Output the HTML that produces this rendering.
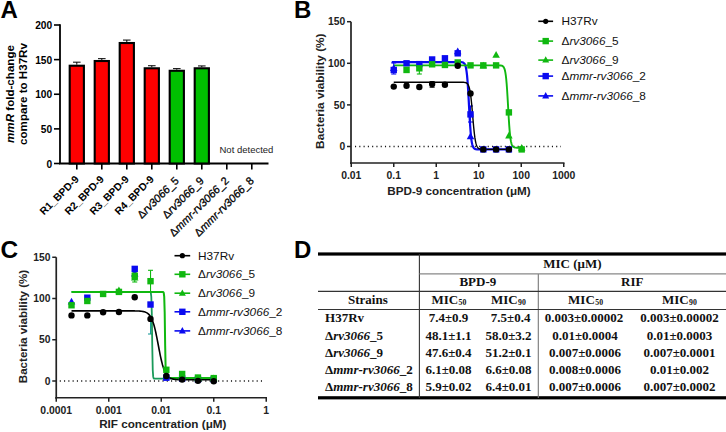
<!DOCTYPE html><html><head><meta charset="utf-8"><style>html,body{margin:0;padding:0;background:#fff;width:726px;height:432px;overflow:hidden}svg{display:block}</style></head><body>
<svg width="726" height="432" viewBox="0 0 726 432" font-family='"Liberation Sans", sans-serif'>
<text x="0.5" y="17.7" font-size="24" font-weight="bold">A</text>
<text x="294" y="18.2" font-size="24" font-weight="bold">B</text>
<text x="0.5" y="257.9" font-size="24.4" font-weight="bold">C</text>
<text x="294" y="257.9" font-size="24" font-weight="bold">D</text>
<line x1="60" y1="24.3" x2="60" y2="163.5" stroke="#000" stroke-width="1.8"/>
<line x1="59" y1="163.5" x2="268.5" y2="163.5" stroke="#000" stroke-width="1.8"/>
<line x1="54" y1="163.5" x2="60" y2="163.5" stroke="#000" stroke-width="1.6"/>
<text x="52.2" y="167.7" font-size="10.2" font-weight="bold" text-anchor="end">0</text>
<line x1="54" y1="128.875" x2="60" y2="128.875" stroke="#000" stroke-width="1.6"/>
<text x="52.2" y="133.075" font-size="10.2" font-weight="bold" text-anchor="end">50</text>
<line x1="54" y1="94.25" x2="60" y2="94.25" stroke="#000" stroke-width="1.6"/>
<text x="52.2" y="98.45" font-size="10.2" font-weight="bold" text-anchor="end">100</text>
<line x1="54" y1="59.625" x2="60" y2="59.625" stroke="#000" stroke-width="1.6"/>
<text x="52.2" y="63.825" font-size="10.2" font-weight="bold" text-anchor="end">150</text>
<line x1="54" y1="25.0" x2="60" y2="25.0" stroke="#000" stroke-width="1.6"/>
<text x="52.2" y="29.2" font-size="10.2" font-weight="bold" text-anchor="end">200</text>
<line x1="76.8" y1="163.5" x2="76.8" y2="169.5" stroke="#000" stroke-width="1.6"/>
<line x1="101.8" y1="163.5" x2="101.8" y2="169.5" stroke="#000" stroke-width="1.6"/>
<line x1="126.8" y1="163.5" x2="126.8" y2="169.5" stroke="#000" stroke-width="1.6"/>
<line x1="151.8" y1="163.5" x2="151.8" y2="169.5" stroke="#000" stroke-width="1.6"/>
<line x1="176.8" y1="163.5" x2="176.8" y2="169.5" stroke="#000" stroke-width="1.6"/>
<line x1="201.8" y1="163.5" x2="201.8" y2="169.5" stroke="#000" stroke-width="1.6"/>
<line x1="226.8" y1="163.5" x2="226.8" y2="169.5" stroke="#000" stroke-width="1.6"/>
<line x1="251.8" y1="163.5" x2="251.8" y2="169.5" stroke="#000" stroke-width="1.6"/>
<line x1="76.8" y1="62.18025" x2="76.8" y2="64.68025" stroke="#000" stroke-width="1"/>
<line x1="73.0" y1="62.18025" x2="80.6" y2="62.18025" stroke="#000" stroke-width="1"/>
<rect x="69.7" y="65.73025" width="14.2" height="97.76975" fill="#ff0000" stroke="#000" stroke-width="2.1"/>
<line x1="101.8" y1="58.67125" x2="101.8" y2="59.97125" stroke="#000" stroke-width="1"/>
<line x1="98.0" y1="58.67125" x2="105.6" y2="58.67125" stroke="#000" stroke-width="1"/>
<rect x="94.7" y="61.021249999999995" width="14.2" height="102.47875" fill="#ff0000" stroke="#000" stroke-width="2.1"/>
<line x1="126.8" y1="40.066250000000004" x2="126.8" y2="41.96625" stroke="#000" stroke-width="1"/>
<line x1="123.0" y1="40.066250000000004" x2="130.6" y2="40.066250000000004" stroke="#000" stroke-width="1"/>
<rect x="119.7" y="43.01625" width="14.2" height="120.48375" fill="#ff0000" stroke="#000" stroke-width="2.1"/>
<line x1="151.8" y1="65.74249999999999" x2="151.8" y2="67.24249999999999" stroke="#000" stroke-width="1"/>
<line x1="148.0" y1="65.74249999999999" x2="155.60000000000002" y2="65.74249999999999" stroke="#000" stroke-width="1"/>
<rect x="144.70000000000002" y="68.29249999999999" width="14.2" height="95.20750000000001" fill="#ff0000" stroke="#000" stroke-width="2.1"/>
<line x1="176.8" y1="68.63550000000001" x2="176.8" y2="69.7355" stroke="#000" stroke-width="1"/>
<line x1="173.0" y1="68.63550000000001" x2="180.60000000000002" y2="68.63550000000001" stroke="#000" stroke-width="1"/>
<rect x="169.70000000000002" y="70.7855" width="14.2" height="92.7145" fill="#00c000" stroke="#000" stroke-width="2.1"/>
<line x1="201.8" y1="65.9425" x2="201.8" y2="67.24249999999999" stroke="#000" stroke-width="1"/>
<line x1="198.0" y1="65.9425" x2="205.60000000000002" y2="65.9425" stroke="#000" stroke-width="1"/>
<rect x="194.70000000000002" y="68.29249999999999" width="14.2" height="95.20750000000001" fill="#00c000" stroke="#000" stroke-width="2.1"/>
<text transform="translate(79.5,180.0) rotate(-45)" font-size="10.4" font-weight="bold" text-anchor="end">R1_BPD-9</text>
<text transform="translate(104.5,180.0) rotate(-45)" font-size="10.4" font-weight="bold" text-anchor="end">R2_BPD-9</text>
<text transform="translate(129.5,180.0) rotate(-45)" font-size="10.4" font-weight="bold" text-anchor="end">R3_BPD-9</text>
<text transform="translate(154.5,180.0) rotate(-45)" font-size="10.4" font-weight="bold" text-anchor="end">R4_BPD-9</text>
<text transform="translate(179.5,181.5) rotate(-45)" font-size="10.4" font-weight="bold" text-anchor="end"><tspan font-weight="normal" font-size="11" stroke="#000" stroke-width="0.3">Δ<tspan font-style="italic">rv3066</tspan>_5</tspan></text>
<text transform="translate(204.5,181.5) rotate(-45)" font-size="10.4" font-weight="bold" text-anchor="end"><tspan font-weight="normal" font-size="11" stroke="#000" stroke-width="0.3">Δ<tspan font-style="italic">rv3066</tspan>_9</tspan></text>
<text transform="translate(229.5,181.5) rotate(-45)" font-size="10.4" font-weight="bold" text-anchor="end"><tspan font-weight="normal" font-size="11" stroke="#000" stroke-width="0.3">Δ<tspan font-style="italic">mmr-rv3066</tspan>_2</tspan></text>
<text transform="translate(254.5,181.5) rotate(-45)" font-size="10.4" font-weight="bold" text-anchor="end"><tspan font-weight="normal" font-size="11" stroke="#000" stroke-width="0.3">Δ<tspan font-style="italic">mmr-rv3066</tspan>_8</tspan></text>
<text x="219.5" y="153" font-size="9.5" fill="#222">Not detected</text>
<text transform="translate(13.5,94) rotate(-90)" font-size="11.6" font-weight="bold" text-anchor="middle"><tspan font-style="italic">mmR</tspan> fold-change</text>
<text transform="translate(26.9,94) rotate(-90)" font-size="11.6" font-weight="bold" text-anchor="middle">compare to H37Rv</text>
<line x1="351" y1="21.700000000000003" x2="351" y2="164" stroke="#222" stroke-width="1.7"/>
<line x1="350" y1="163" x2="564.5" y2="163" stroke="#222" stroke-width="1.7"/>
<line x1="347" y1="146.5" x2="351" y2="146.5" stroke="#222" stroke-width="1.5"/>
<text x="345.2" y="150.2" font-size="10.3" font-weight="bold" text-anchor="end" fill="#222">0</text>
<line x1="347" y1="104.9" x2="351" y2="104.9" stroke="#222" stroke-width="1.5"/>
<text x="345.2" y="108.60000000000001" font-size="10.3" font-weight="bold" text-anchor="end" fill="#222">50</text>
<line x1="347" y1="63.3" x2="351" y2="63.3" stroke="#222" stroke-width="1.5"/>
<text x="345.2" y="67.0" font-size="10.3" font-weight="bold" text-anchor="end" fill="#222">100</text>
<line x1="347" y1="21.700000000000003" x2="351" y2="21.700000000000003" stroke="#222" stroke-width="1.5"/>
<text x="345.2" y="25.400000000000002" font-size="10.3" font-weight="bold" text-anchor="end" fill="#222">150</text>
<line x1="351.25" y1="163" x2="351.25" y2="167" stroke="#222" stroke-width="1.5"/>
<text x="351.25" y="179" font-size="10.4" font-weight="bold" text-anchor="middle" fill="#222">0.01</text>
<line x1="393.75" y1="163" x2="393.75" y2="167" stroke="#222" stroke-width="1.5"/>
<text x="393.75" y="179" font-size="10.4" font-weight="bold" text-anchor="middle" fill="#222">0.1</text>
<line x1="436.25" y1="163" x2="436.25" y2="167" stroke="#222" stroke-width="1.5"/>
<text x="436.25" y="179" font-size="10.4" font-weight="bold" text-anchor="middle" fill="#222">1</text>
<line x1="478.75" y1="163" x2="478.75" y2="167" stroke="#222" stroke-width="1.5"/>
<text x="478.75" y="179" font-size="10.4" font-weight="bold" text-anchor="middle" fill="#222">10</text>
<line x1="521.25" y1="163" x2="521.25" y2="167" stroke="#222" stroke-width="1.5"/>
<text x="521.25" y="179" font-size="10.4" font-weight="bold" text-anchor="middle" fill="#222">100</text>
<line x1="563.75" y1="163" x2="563.75" y2="167" stroke="#222" stroke-width="1.5"/>
<text x="563.75" y="179" font-size="10.4" font-weight="bold" text-anchor="middle" fill="#222">1000</text>
<text x="459" y="194.5" font-size="11.7" font-weight="bold" text-anchor="middle" fill="#222">BPD-9 concentration (μM)</text>
<text transform="translate(323.6,91.2) rotate(-90)" font-size="11.8" font-weight="bold" text-anchor="middle" fill="#222">Bacteria viability (%)</text>
<line x1="355" y1="146.5" x2="561" y2="146.5" stroke="#111" stroke-width="1.3" stroke-dasharray="1.1,3.18"/>
<line x1="393.75" y1="62.90" x2="393.75" y2="74.00" stroke="#0a0af0" stroke-width="1.1"/>
<line x1="391.25" y1="62.90" x2="396.25" y2="62.90" stroke="#0a0af0" stroke-width="1.1"/>
<line x1="391.25" y1="74.00" x2="396.25" y2="74.00" stroke="#0a0af0" stroke-width="1.1"/>
<line x1="419.34" y1="64.00" x2="419.34" y2="74.00" stroke="#10b810" stroke-width="1.1"/>
<line x1="416.84" y1="64.00" x2="421.84" y2="64.00" stroke="#10b810" stroke-width="1.1"/>
<line x1="416.84" y1="74.00" x2="421.84" y2="74.00" stroke="#10b810" stroke-width="1.1"/>
<line x1="432.13" y1="81.70" x2="432.13" y2="87.20" stroke="#000" stroke-width="1.1"/>
<line x1="429.63" y1="81.70" x2="434.63" y2="81.70" stroke="#000" stroke-width="1.1"/>
<line x1="429.63" y1="87.20" x2="434.63" y2="87.20" stroke="#000" stroke-width="1.1"/>
<line x1="470.51" y1="106.00" x2="470.51" y2="122.00" stroke="#0a0af0" stroke-width="1.1"/>
<line x1="468.01" y1="106.00" x2="473.01" y2="106.00" stroke="#0a0af0" stroke-width="1.1"/>
<line x1="468.01" y1="122.00" x2="473.01" y2="122.00" stroke="#0a0af0" stroke-width="1.1"/>
<polyline points="391.81,62.05 392.21,62.05 392.61,62.05 393.01,62.05 393.41,62.05 393.81,62.05 394.21,62.05 394.61,62.05 395.01,62.05 395.41,62.05 395.81,62.05 396.21,62.05 396.61,62.05 397.01,62.05 397.41,62.05 397.81,62.05 398.21,62.05 398.61,62.05 399.01,62.05 399.41,62.05 399.81,62.05 400.21,62.05 400.61,62.05 401.01,62.05 401.41,62.05 401.81,62.05 402.21,62.05 402.61,62.05 403.01,62.05 403.41,62.05 403.81,62.05 404.21,62.05 404.61,62.05 405.01,62.05 405.41,62.05 405.81,62.05 406.21,62.05 406.61,62.05 407.01,62.05 407.41,62.05 407.81,62.05 408.21,62.05 408.61,62.05 409.01,62.05 409.41,62.05 409.81,62.05 410.21,62.05 410.61,62.05 411.01,62.05 411.41,62.05 411.81,62.05 412.21,62.05 412.61,62.05 413.01,62.05 413.41,62.05 413.81,62.05 414.21,62.05 414.61,62.05 415.01,62.05 415.41,62.05 415.81,62.05 416.21,62.05 416.61,62.05 417.01,62.05 417.41,62.05 417.81,62.05 418.21,62.05 418.61,62.05 419.01,62.05 419.41,62.05 419.81,62.05 420.21,62.05 420.61,62.05 421.01,62.05 421.41,62.05 421.81,62.05 422.21,62.05 422.61,62.05 423.01,62.05 423.41,62.05 423.81,62.05 424.21,62.05 424.61,62.05 425.01,62.05 425.41,62.05 425.81,62.05 426.21,62.05 426.61,62.05 427.01,62.05 427.41,62.05 427.81,62.05 428.21,62.05 428.61,62.05 429.01,62.05 429.41,62.05 429.81,62.05 430.21,62.05 430.61,62.05 431.01,62.05 431.41,62.05 431.81,62.05 432.21,62.05 432.61,62.05 433.01,62.05 433.41,62.05 433.81,62.05 434.21,62.05 434.61,62.05 435.01,62.05 435.41,62.05 435.81,62.05 436.21,62.05 436.61,62.05 437.01,62.05 437.41,62.05 437.81,62.05 438.21,62.05 438.61,62.05 439.01,62.05 439.41,62.05 439.81,62.05 440.21,62.05 440.61,62.05 441.01,62.05 441.41,62.05 441.81,62.05 442.21,62.05 442.61,62.05 443.01,62.05 443.41,62.05 443.81,62.05 444.21,62.05 444.61,62.05 445.01,62.05 445.41,62.05 445.81,62.05 446.21,62.05 446.61,62.05 447.01,62.05 447.41,62.05 447.81,62.05 448.21,62.05 448.61,62.05 449.01,62.05 449.41,62.05 449.81,62.05 450.21,62.05 450.61,62.05 451.01,62.05 451.41,62.05 451.81,62.05 452.21,62.05 452.61,62.05 453.01,62.05 453.41,62.05 453.81,62.05 454.21,62.05 454.61,62.05 455.01,62.05 455.41,62.05 455.81,62.05 456.21,62.05 456.61,62.05 457.01,62.05 457.41,62.06 457.81,62.06 458.21,62.06 458.61,62.06 459.01,62.07 459.41,62.07 459.81,62.08 460.21,62.09 460.61,62.11 461.01,62.14 461.41,62.17 461.81,62.22 462.21,62.29 462.61,62.39 463.01,62.53 463.41,62.73 463.81,63.01 464.22,63.40 464.62,63.94 465.02,64.70 465.42,65.76 465.82,67.20 466.22,69.16 466.62,71.78 467.02,75.21 467.42,79.57 467.82,84.93 468.22,91.24 468.62,98.32 469.02,105.82 469.42,113.31 469.82,120.38 470.22,126.67 470.62,132.01 471.02,136.34 471.42,139.75 471.82,142.35 472.22,144.30 472.62,145.74 473.02,146.78 473.42,147.53 473.82,148.08 474.22,148.46 474.62,148.74 475.02,148.94 475.42,149.07 475.82,149.17 476.22,149.24 476.62,149.29 477.02,149.33 477.42,149.35 477.82,149.37 478.22,149.38 478.62,149.39 479.02,149.40 479.42,149.40 479.82,149.40 480.22,149.41 480.62,149.41 481.02,149.41 481.42,149.41 481.82,149.41 482.22,149.41 482.62,149.41 483.02,149.41 483.42,149.41 483.82,149.41 484.22,149.41 484.62,149.41 485.02,149.41 485.42,149.41 485.82,149.41 486.22,149.41 486.62,149.41 487.02,149.41 487.42,149.41 487.82,149.41 488.22,149.41 488.62,149.41 489.02,149.41 489.42,149.41 489.82,149.41 490.22,149.41 490.62,149.41 491.02,149.41 491.42,149.41 491.82,149.41 492.22,149.41 492.62,149.41 493.02,149.41 493.42,149.41 493.82,149.41 494.22,149.41 494.62,149.41 495.02,149.41 495.42,149.41 495.82,149.41 496.22,149.41 496.62,149.41 497.02,149.41 497.42,149.41 497.82,149.41 498.22,149.41 498.62,149.41 499.02,149.41 499.42,149.41 499.82,149.41 500.22,149.41 500.62,149.41 501.02,149.41 501.42,149.41 501.82,149.41 502.22,149.41 502.62,149.41 503.02,149.41 503.42,149.41 503.82,149.41 504.22,149.41 504.62,149.41 505.02,149.41 505.42,149.41 505.82,149.41 506.22,149.41 506.62,149.41 507.02,149.41 507.42,149.41 507.82,149.41 508.22,149.41 508.62,149.41 509.02,149.41 509.42,149.41 509.82,149.41 510.22,149.41 510.62,149.41 511.02,149.41 511.42,149.41 511.82,149.41" fill="none" stroke="#0a0af0" stroke-width="2.2"/>
<polyline points="393.75,82.19 394.14,82.19 394.53,82.19 394.91,82.19 395.30,82.19 395.69,82.19 396.08,82.19 396.47,82.19 396.86,82.19 397.24,82.19 397.63,82.19 398.02,82.19 398.41,82.19 398.80,82.19 399.19,82.19 399.57,82.19 399.96,82.19 400.35,82.19 400.74,82.19 401.13,82.19 401.51,82.19 401.90,82.19 402.29,82.19 402.68,82.19 403.07,82.19 403.46,82.19 403.84,82.19 404.23,82.19 404.62,82.19 405.01,82.19 405.40,82.19 405.78,82.19 406.17,82.19 406.56,82.19 406.95,82.19 407.34,82.19 407.73,82.19 408.11,82.19 408.50,82.19 408.89,82.19 409.28,82.19 409.67,82.19 410.06,82.19 410.44,82.19 410.83,82.19 411.22,82.19 411.61,82.19 412.00,82.19 412.38,82.19 412.77,82.19 413.16,82.19 413.55,82.19 413.94,82.19 414.33,82.19 414.71,82.19 415.10,82.19 415.49,82.19 415.88,82.19 416.27,82.19 416.65,82.19 417.04,82.19 417.43,82.19 417.82,82.19 418.21,82.19 418.60,82.19 418.98,82.19 419.37,82.19 419.76,82.19 420.15,82.19 420.54,82.19 420.93,82.19 421.31,82.19 421.70,82.19 422.09,82.19 422.48,82.19 422.87,82.19 423.25,82.19 423.64,82.19 424.03,82.19 424.42,82.19 424.81,82.19 425.20,82.19 425.58,82.19 425.97,82.19 426.36,82.19 426.75,82.19 427.14,82.19 427.52,82.19 427.91,82.19 428.30,82.19 428.69,82.19 429.08,82.19 429.47,82.19 429.85,82.19 430.24,82.19 430.63,82.19 431.02,82.19 431.41,82.19 431.80,82.19 432.18,82.19 432.57,82.19 432.96,82.19 433.35,82.19 433.74,82.19 434.12,82.19 434.51,82.19 434.90,82.19 435.29,82.19 435.68,82.19 436.07,82.19 436.45,82.19 436.84,82.19 437.23,82.19 437.62,82.19 438.01,82.19 438.40,82.19 438.78,82.19 439.17,82.19 439.56,82.19 439.95,82.19 440.34,82.19 440.72,82.19 441.11,82.19 441.50,82.19 441.89,82.19 442.28,82.19 442.67,82.19 443.05,82.19 443.44,82.19 443.83,82.19 444.22,82.19 444.61,82.19 444.99,82.19 445.38,82.19 445.77,82.19 446.16,82.19 446.55,82.19 446.94,82.19 447.32,82.19 447.71,82.19 448.10,82.19 448.49,82.19 448.88,82.19 449.27,82.19 449.65,82.19 450.04,82.19 450.43,82.19 450.82,82.19 451.21,82.19 451.59,82.19 451.98,82.19 452.37,82.19 452.76,82.19 453.15,82.19 453.54,82.19 453.92,82.19 454.31,82.19 454.70,82.19 455.09,82.19 455.48,82.19 455.86,82.19 456.25,82.19 456.64,82.19 457.03,82.19 457.42,82.19 457.81,82.19 458.19,82.19 458.58,82.19 458.97,82.19 459.36,82.19 459.75,82.19 460.14,82.20 460.52,82.20 460.91,82.20 461.30,82.21 461.69,82.22 462.08,82.22 462.46,82.24 462.85,82.25 463.24,82.27 463.63,82.30 464.02,82.34 464.41,82.38 464.79,82.44 465.18,82.53 465.57,82.63 465.96,82.77 466.35,82.95 466.73,83.19 467.12,83.50 467.51,83.90 467.90,84.42 468.29,85.09 468.68,85.95 469.06,87.05 469.45,88.44 469.84,90.17 470.23,92.30 470.62,94.88 471.01,97.94 471.39,101.47 471.78,105.44 472.17,109.75 472.56,114.28 472.95,118.87 473.33,123.34 473.72,127.55 474.11,131.38 474.50,134.75 474.89,137.64 475.28,140.07 475.66,142.06 476.05,143.67 476.44,144.95 476.83,145.96 477.22,146.76 477.61,147.37 477.99,147.85 478.38,148.22 478.77,148.50 479.16,148.71 479.55,148.88 479.93,149.01 480.32,149.10 480.71,149.18 481.10,149.23 481.49,149.28 481.88,149.31 482.26,149.33 482.65,149.35 483.04,149.37 483.43,149.38 483.82,149.39 484.20,149.39 484.59,149.40 484.98,149.40 485.37,149.40 485.76,149.41 486.15,149.41 486.53,149.41 486.92,149.41 487.31,149.41 487.70,149.41 488.09,149.41 488.48,149.41 488.86,149.41 489.25,149.41 489.64,149.41 490.03,149.41 490.42,149.41 490.80,149.41 491.19,149.41 491.58,149.41 491.97,149.41 492.36,149.41 492.75,149.41 493.13,149.41 493.52,149.41 493.91,149.41 494.30,149.41 494.69,149.41 495.07,149.41 495.46,149.41 495.85,149.41 496.24,149.41 496.63,149.41 497.02,149.41 497.40,149.41 497.79,149.41 498.18,149.41 498.57,149.41 498.96,149.41 499.35,149.41 499.73,149.41 500.12,149.41 500.51,149.41 500.90,149.41 501.29,149.41 501.67,149.41 502.06,149.41 502.45,149.41 502.84,149.41 503.23,149.41 503.62,149.41 504.00,149.41 504.39,149.41 504.78,149.41 505.17,149.41 505.56,149.41 505.95,149.41 506.33,149.41 506.72,149.41 507.11,149.41 507.50,149.41 507.89,149.41 508.27,149.41 508.66,149.41 509.05,149.41 509.44,149.41 509.83,149.41 510.22,149.41" fill="none" stroke="#000" stroke-width="1.4"/>
<polyline points="393.75,65.38 394.18,65.38 394.61,65.38 395.04,65.38 395.47,65.38 395.90,65.38 396.34,65.38 396.77,65.38 397.20,65.38 397.63,65.38 398.06,65.38 398.49,65.38 398.92,65.38 399.35,65.38 399.78,65.38 400.21,65.38 400.64,65.38 401.07,65.38 401.51,65.38 401.94,65.38 402.37,65.38 402.80,65.38 403.23,65.38 403.66,65.38 404.09,65.38 404.52,65.38 404.95,65.38 405.38,65.38 405.81,65.38 406.25,65.38 406.68,65.38 407.11,65.38 407.54,65.38 407.97,65.38 408.40,65.38 408.83,65.38 409.26,65.38 409.69,65.38 410.12,65.38 410.55,65.38 410.98,65.38 411.42,65.38 411.85,65.38 412.28,65.38 412.71,65.38 413.14,65.38 413.57,65.38 414.00,65.38 414.43,65.38 414.86,65.38 415.29,65.38 415.72,65.38 416.15,65.38 416.59,65.38 417.02,65.38 417.45,65.38 417.88,65.38 418.31,65.38 418.74,65.38 419.17,65.38 419.60,65.38 420.03,65.38 420.46,65.38 420.89,65.38 421.33,65.38 421.76,65.38 422.19,65.38 422.62,65.38 423.05,65.38 423.48,65.38 423.91,65.38 424.34,65.38 424.77,65.38 425.20,65.38 425.63,65.38 426.06,65.38 426.50,65.38 426.93,65.38 427.36,65.38 427.79,65.38 428.22,65.38 428.65,65.38 429.08,65.38 429.51,65.38 429.94,65.38 430.37,65.38 430.80,65.38 431.24,65.38 431.67,65.38 432.10,65.38 432.53,65.38 432.96,65.38 433.39,65.38 433.82,65.38 434.25,65.38 434.68,65.38 435.11,65.38 435.54,65.38 435.97,65.38 436.41,65.38 436.84,65.38 437.27,65.38 437.70,65.38 438.13,65.38 438.56,65.38 438.99,65.38 439.42,65.38 439.85,65.38 440.28,65.38 440.71,65.38 441.15,65.38 441.58,65.38 442.01,65.38 442.44,65.38 442.87,65.38 443.30,65.38 443.73,65.38 444.16,65.38 444.59,65.38 445.02,65.38 445.45,65.38 445.88,65.38 446.32,65.38 446.75,65.38 447.18,65.38 447.61,65.38 448.04,65.38 448.47,65.38 448.90,65.38 449.33,65.38 449.76,65.38 450.19,65.38 450.62,65.38 451.05,65.38 451.49,65.38 451.92,65.38 452.35,65.38 452.78,65.38 453.21,65.38 453.64,65.38 454.07,65.38 454.50,65.38 454.93,65.38 455.36,65.38 455.79,65.38 456.23,65.38 456.66,65.38 457.09,65.38 457.52,65.38 457.95,65.38 458.38,65.38 458.81,65.38 459.24,65.38 459.67,65.38 460.10,65.38 460.53,65.38 460.96,65.38 461.40,65.38 461.83,65.38 462.26,65.38 462.69,65.38 463.12,65.38 463.55,65.38 463.98,65.38 464.41,65.38 464.84,65.38 465.27,65.38 465.70,65.38 466.14,65.38 466.57,65.38 467.00,65.38 467.43,65.38 467.86,65.38 468.29,65.38 468.72,65.38 469.15,65.38 469.58,65.38 470.01,65.38 470.44,65.38 470.87,65.38 471.31,65.38 471.74,65.38 472.17,65.38 472.60,65.38 473.03,65.38 473.46,65.38 473.89,65.38 474.32,65.38 474.75,65.38 475.18,65.38 475.61,65.38 476.05,65.38 476.48,65.38 476.91,65.38 477.34,65.38 477.77,65.38 478.20,65.38 478.63,65.38 479.06,65.38 479.49,65.38 479.92,65.38 480.35,65.38 480.78,65.38 481.22,65.38 481.65,65.38 482.08,65.38 482.51,65.38 482.94,65.38 483.37,65.38 483.80,65.38 484.23,65.38 484.66,65.38 485.09,65.38 485.52,65.38 485.95,65.38 486.39,65.38 486.82,65.38 487.25,65.38 487.68,65.38 488.11,65.38 488.54,65.38 488.97,65.38 489.40,65.38 489.83,65.38 490.26,65.38 490.69,65.38 491.13,65.38 491.56,65.38 491.99,65.38 492.42,65.38 492.85,65.38 493.28,65.38 493.71,65.38 494.14,65.38 494.57,65.38 495.00,65.38 495.43,65.38 495.86,65.38 496.30,65.38 496.73,65.38 497.16,65.39 497.59,65.39 498.02,65.39 498.45,65.40 498.88,65.41 499.31,65.42 499.74,65.44 500.17,65.47 500.60,65.51 501.04,65.56 501.47,65.64 501.90,65.76 502.33,65.94 502.76,66.19 503.19,66.55 503.62,67.06 504.05,67.81 504.48,68.86 504.91,70.34 505.34,72.39 505.77,75.19 506.21,78.90 506.64,83.66 507.07,89.51 507.50,96.34 507.93,103.81 508.36,111.48 508.79,118.81 509.22,125.38 509.65,130.93 510.08,135.38 510.51,138.82 510.94,141.39 511.38,143.26 511.81,144.61 512.24,145.56 512.67,146.23 513.10,146.70 513.53,147.02 513.96,147.25 514.39,147.40 514.82,147.51 515.25,147.58 515.68,147.63 516.12,147.67 516.55,147.69 516.98,147.71 517.41,147.72 517.84,147.73 518.27,147.74 518.70,147.74 519.13,147.74 519.56,147.74 519.99,147.75 520.42,147.75 520.85,147.75 521.29,147.75 521.72,147.75 522.15,147.75 522.58,147.75 523.01,147.75" fill="none" stroke="#10b810" stroke-width="1.9"/>
<polygon points="393.75,64.24 390.00,70.99 397.50,70.99" fill="#0a0af0"/>
<rect x="390.55" y="66.76" width="6.4" height="6.4" fill="#0a0af0"/>
<circle cx="393.75" cy="86.60" r="3.2" fill="#000"/>
<rect x="403.34" y="60.10" width="6.4" height="6.4" fill="#0a0af0"/>
<rect x="403.34" y="66.76" width="6.4" height="6.4" fill="#10b810"/>
<circle cx="406.54" cy="85.76" r="3.2" fill="#000"/>
<rect x="416.14" y="60.93" width="6.4" height="6.4" fill="#0a0af0"/>
<rect x="416.14" y="65.09" width="6.4" height="6.4" fill="#10b810"/>
<circle cx="419.34" cy="87.01" r="3.2" fill="#000"/>
<rect x="428.93" y="56.27" width="6.4" height="6.4" fill="#0a0af0"/>
<rect x="428.93" y="61.10" width="6.4" height="6.4" fill="#10b810"/>
<circle cx="432.13" cy="84.10" r="3.2" fill="#000"/>
<rect x="441.73" y="55.11" width="6.4" height="6.4" fill="#0a0af0"/>
<rect x="441.73" y="61.76" width="6.4" height="6.4" fill="#10b810"/>
<circle cx="444.93" cy="84.68" r="3.2" fill="#000"/>
<polygon points="457.72,47.60 453.97,54.35 461.47,54.35" fill="#0a0af0"/>
<rect x="454.52" y="50.12" width="6.4" height="6.4" fill="#0a0af0"/>
<rect x="454.52" y="59.27" width="6.4" height="6.4" fill="#10b810"/>
<circle cx="457.72" cy="65.80" r="3.2" fill="#000"/>
<polygon points="470.51,132.47 466.76,139.22 474.26,139.22" fill="#0a0af0"/>
<rect x="467.31" y="111.18" width="6.4" height="6.4" fill="#0a0af0"/>
<rect x="467.31" y="62.18" width="6.4" height="6.4" fill="#10b810"/>
<circle cx="470.51" cy="93.42" r="3.2" fill="#000"/>
<rect x="480.11" y="146.21" width="6.4" height="6.4" fill="#0a0af0"/>
<polygon points="483.31,61.75 479.56,68.50 487.06,68.50" fill="#10b810"/>
<rect x="480.11" y="62.18" width="6.4" height="6.4" fill="#10b810"/>
<circle cx="483.31" cy="149.41" r="3.2" fill="#000"/>
<rect x="492.90" y="146.21" width="6.4" height="6.4" fill="#0a0af0"/>
<polygon points="496.10,50.93 492.35,57.68 499.85,57.68" fill="#10b810"/>
<rect x="492.90" y="62.18" width="6.4" height="6.4" fill="#10b810"/>
<circle cx="496.10" cy="149.41" r="3.2" fill="#000"/>
<rect x="505.69" y="146.21" width="6.4" height="6.4" fill="#0a0af0"/>
<polygon points="508.89,131.63 505.14,138.38 512.64,138.38" fill="#10b810"/>
<rect x="505.69" y="109.19" width="6.4" height="6.4" fill="#10b810"/>
<circle cx="508.89" cy="149.41" r="3.2" fill="#000"/>
<polygon points="521.69,144.11 517.94,150.86 525.44,150.86" fill="#10b810"/>
<rect x="518.49" y="146.21" width="6.4" height="6.4" fill="#10b810"/>
<line x1="538.3" y1="21.3" x2="553.1" y2="21.3" stroke="#000" stroke-width="1.6"/>
<circle cx="545.70" cy="21.30" r="2.6" fill="#000"/>
<text x="561.5" y="25.2" font-size="11.8" fill="#111">H37Rv</text>
<line x1="538.3" y1="41.1" x2="553.1" y2="41.1" stroke="#10b810" stroke-width="1.6"/>
<rect x="542.50" y="37.90" width="6.4" height="6.4" fill="#10b810"/>
<text x="561.5" y="45.0" font-size="11.8" fill="#111"><tspan>Δ</tspan><tspan font-style="italic">rv3066</tspan>_5</text>
<line x1="538.3" y1="60.1" x2="553.1" y2="60.1" stroke="#10b810" stroke-width="1.6"/>
<polygon points="545.70,56.32 542.20,62.62 549.20,62.62" fill="#10b810"/>
<text x="561.5" y="64.0" font-size="11.8" fill="#111"><tspan>Δ</tspan><tspan font-style="italic">rv3066</tspan>_9</text>
<line x1="538.3" y1="76.1" x2="553.1" y2="76.1" stroke="#0a0af0" stroke-width="1.6"/>
<rect x="542.50" y="72.90" width="6.4" height="6.4" fill="#0a0af0"/>
<text x="561.5" y="80.0" font-size="11.8" fill="#111"><tspan>Δ</tspan><tspan font-style="italic">mmr-rv3066</tspan>_2</text>
<line x1="538.3" y1="95.9" x2="553.1" y2="95.9" stroke="#0a0af0" stroke-width="1.6"/>
<polygon points="545.70,92.12 542.20,98.42 549.20,98.42" fill="#0a0af0"/>
<text x="561.5" y="99.80000000000001" font-size="11.8" fill="#111"><tspan>Δ</tspan><tspan font-style="italic">mmr-rv3066</tspan>_8</text>
<line x1="56.25" y1="257.25" x2="56.25" y2="398.75" stroke="#222" stroke-width="1.7"/>
<line x1="55.25" y1="397.75" x2="267" y2="397.75" stroke="#222" stroke-width="1.7"/>
<line x1="52.25" y1="381.0" x2="56.25" y2="381.0" stroke="#222" stroke-width="1.5"/>
<text x="50.45" y="384.7" font-size="10.3" font-weight="bold" text-anchor="end" fill="#222">0</text>
<line x1="52.25" y1="339.75" x2="56.25" y2="339.75" stroke="#222" stroke-width="1.5"/>
<text x="50.45" y="343.45" font-size="10.3" font-weight="bold" text-anchor="end" fill="#222">50</text>
<line x1="52.25" y1="298.5" x2="56.25" y2="298.5" stroke="#222" stroke-width="1.5"/>
<text x="50.45" y="302.2" font-size="10.3" font-weight="bold" text-anchor="end" fill="#222">100</text>
<line x1="52.25" y1="257.25" x2="56.25" y2="257.25" stroke="#222" stroke-width="1.5"/>
<text x="50.45" y="260.95" font-size="10.3" font-weight="bold" text-anchor="end" fill="#222">150</text>
<line x1="56.25" y1="397.75" x2="56.25" y2="401.75" stroke="#222" stroke-width="1.5"/>
<text x="56.25" y="413.75" font-size="10.4" font-weight="bold" text-anchor="middle" fill="#222">0.0001</text>
<line x1="108.75" y1="397.75" x2="108.75" y2="401.75" stroke="#222" stroke-width="1.5"/>
<text x="108.75" y="413.75" font-size="10.4" font-weight="bold" text-anchor="middle" fill="#222">0.001</text>
<line x1="161.25" y1="397.75" x2="161.25" y2="401.75" stroke="#222" stroke-width="1.5"/>
<text x="161.25" y="413.75" font-size="10.4" font-weight="bold" text-anchor="middle" fill="#222">0.01</text>
<line x1="213.75" y1="397.75" x2="213.75" y2="401.75" stroke="#222" stroke-width="1.5"/>
<text x="213.75" y="413.75" font-size="10.4" font-weight="bold" text-anchor="middle" fill="#222">0.1</text>
<line x1="266.25" y1="397.75" x2="266.25" y2="401.75" stroke="#222" stroke-width="1.5"/>
<text x="266.25" y="413.75" font-size="10.4" font-weight="bold" text-anchor="middle" fill="#222">1</text>
<text x="162.8" y="428" font-size="11.7" font-weight="bold" text-anchor="middle" fill="#222">RIF concentration (μM)</text>
<text transform="translate(27.1,326.5) rotate(-90)" font-size="11.6" font-weight="bold" text-anchor="middle" fill="#222">Bacteria viability (%)</text>
<line x1="59.75" y1="381" x2="264" y2="381" stroke="#111" stroke-width="1.3" stroke-dasharray="1.1,3.18"/>
<line x1="134.73" y1="272.93" x2="134.73" y2="282.00" stroke="#10b810" stroke-width="1.1"/>
<line x1="132.23" y1="272.93" x2="137.23" y2="272.93" stroke="#10b810" stroke-width="1.1"/>
<line x1="132.23" y1="282.00" x2="137.23" y2="282.00" stroke="#10b810" stroke-width="1.1"/>
<line x1="150.53" y1="270.30" x2="150.53" y2="292.00" stroke="#10b810" stroke-width="1.1"/>
<line x1="148.03" y1="270.30" x2="153.03" y2="270.30" stroke="#10b810" stroke-width="1.1"/>
<line x1="148.03" y1="292.00" x2="153.03" y2="292.00" stroke="#10b810" stroke-width="1.1"/>
<line x1="150.53" y1="318.00" x2="150.53" y2="334.00" stroke="#1a9a9a" stroke-width="1.1"/>
<line x1="148.03" y1="318.00" x2="153.03" y2="318.00" stroke="#1a9a9a" stroke-width="1.1"/>
<line x1="148.03" y1="334.00" x2="153.03" y2="334.00" stroke="#1a9a9a" stroke-width="1.1"/>
<line x1="134.73" y1="267.15" x2="134.73" y2="276.23" stroke="#0a0af0" stroke-width="1.1"/>
<line x1="132.23" y1="267.15" x2="137.23" y2="267.15" stroke="#0a0af0" stroke-width="1.1"/>
<line x1="132.23" y1="276.23" x2="137.23" y2="276.23" stroke="#0a0af0" stroke-width="1.1"/>
<polyline points="71.51,291.90 71.99,291.90 72.47,291.90 72.95,291.90 73.42,291.90 73.90,291.90 74.38,291.90 74.86,291.90 75.34,291.90 75.81,291.90 76.29,291.90 76.77,291.90 77.25,291.90 77.73,291.90 78.20,291.90 78.68,291.90 79.16,291.90 79.64,291.90 80.11,291.90 80.59,291.90 81.07,291.90 81.55,291.90 82.03,291.90 82.50,291.90 82.98,291.90 83.46,291.90 83.94,291.90 84.41,291.90 84.89,291.90 85.37,291.90 85.85,291.90 86.33,291.90 86.80,291.90 87.28,291.90 87.76,291.90 88.24,291.90 88.72,291.90 89.19,291.90 89.67,291.90 90.15,291.90 90.63,291.90 91.10,291.90 91.58,291.90 92.06,291.90 92.54,291.90 93.02,291.90 93.49,291.90 93.97,291.90 94.45,291.90 94.93,291.90 95.40,291.90 95.88,291.90 96.36,291.90 96.84,291.90 97.32,291.90 97.79,291.90 98.27,291.90 98.75,291.90 99.23,291.90 99.71,291.90 100.18,291.90 100.66,291.90 101.14,291.90 101.62,291.90 102.09,291.90 102.57,291.90 103.05,291.90 103.53,291.90 104.01,291.90 104.48,291.90 104.96,291.90 105.44,291.90 105.92,291.90 106.39,291.90 106.87,291.90 107.35,291.90 107.83,291.90 108.31,291.90 108.78,291.90 109.26,291.90 109.74,291.90 110.22,291.90 110.70,291.90 111.17,291.90 111.65,291.90 112.13,291.90 112.61,291.90 113.08,291.90 113.56,291.90 114.04,291.90 114.52,291.90 115.00,291.90 115.47,291.90 115.95,291.90 116.43,291.90 116.91,291.90 117.39,291.90 117.86,291.90 118.34,291.90 118.82,291.90 119.30,291.90 119.77,291.90 120.25,291.90 120.73,291.90 121.21,291.90 121.69,291.90 122.16,291.90 122.64,291.90 123.12,291.90 123.60,291.90 124.07,291.90 124.55,291.90 125.03,291.90 125.51,291.90 125.99,291.90 126.46,291.90 126.94,291.90 127.42,291.90 127.90,291.90 128.38,291.90 128.85,291.90 129.33,291.90 129.81,291.90 130.29,291.90 130.76,291.90 131.24,291.90 131.72,291.90 132.20,291.90 132.68,291.90 133.15,291.90 133.63,291.90 134.11,291.90 134.59,291.90 135.06,291.90 135.54,291.90 136.02,291.90 136.50,291.90 136.98,291.90 137.45,291.90 137.93,291.90 138.41,291.90 138.89,291.90 139.37,291.90 139.84,291.90 140.32,291.90 140.80,291.90 141.28,291.90 141.75,291.90 142.23,291.90 142.71,291.90 143.19,291.90 143.67,291.90 144.14,291.90 144.62,291.90 145.10,291.90 145.58,291.90 146.05,291.90 146.53,291.90 147.01,291.90 147.49,291.90 147.97,291.90 148.44,291.90 148.92,291.90 149.40,291.91 149.88,291.93 150.36,292.08 150.83,292.84 151.31,296.71 151.79,312.64 152.27,346.30 152.74,369.99 153.22,376.92 153.70,378.35 154.18,378.63 154.66,378.68 155.13,378.69 155.61,378.69 156.09,378.69 156.57,378.69 157.04,378.69 157.52,378.69 158.00,378.69 158.48,378.69 158.96,378.69 159.43,378.69 159.91,378.69 160.39,378.69 160.87,378.69 161.35,378.69 161.82,378.69 162.30,378.69 162.78,378.69 163.26,378.69 163.73,378.69 164.21,378.69 164.69,378.69 165.17,378.69 165.65,378.69 166.12,378.69 166.60,378.69 167.08,378.69 167.56,378.69 168.04,378.69 168.51,378.69 168.99,378.69 169.47,378.69 169.95,378.69 170.42,378.69 170.90,378.69 171.38,378.69 171.86,378.69 172.34,378.69 172.81,378.69 173.29,378.69 173.77,378.69 174.25,378.69 174.72,378.69 175.20,378.69 175.68,378.69 176.16,378.69 176.64,378.69 177.11,378.69 177.59,378.69 178.07,378.69 178.55,378.69 179.03,378.69 179.50,378.69 179.98,378.69 180.46,378.69 180.94,378.69 181.41,378.69 181.89,378.69 182.37,378.69 182.85,378.69 183.33,378.69 183.80,378.69 184.28,378.69 184.76,378.69 185.24,378.69 185.71,378.69 186.19,378.69 186.67,378.69 187.15,378.69 187.63,378.69 188.10,378.69 188.58,378.69 189.06,378.69 189.54,378.69 190.02,378.69 190.49,378.69 190.97,378.69 191.45,378.69 191.93,378.69 192.40,378.69 192.88,378.69 193.36,378.69 193.84,378.69 194.32,378.69 194.79,378.69 195.27,378.69 195.75,378.69 196.23,378.69 196.70,378.69 197.18,378.69 197.66,378.69 198.14,378.69 198.62,378.69 199.09,378.69 199.57,378.69 200.05,378.69 200.53,378.69 201.01,378.69 201.48,378.69 201.96,378.69 202.44,378.69 202.92,378.69 203.39,378.69 203.87,378.69 204.35,378.69 204.83,378.69 205.31,378.69 205.78,378.69 206.26,378.69 206.74,378.69 207.22,378.69 207.69,378.69 208.17,378.69 208.65,378.69 209.13,378.69 209.61,378.69 210.08,378.69 210.56,378.69 211.04,378.69 211.52,378.69 212.00,378.69 212.47,378.69 212.95,378.69 213.43,378.69 213.91,378.69 214.38,378.69 214.86,378.69" fill="none" stroke="#1a9a5a" stroke-width="1.8"/>
<polyline points="71.51,291.90 71.99,291.90 72.47,291.90 72.95,291.90 73.42,291.90 73.90,291.90 74.38,291.90 74.86,291.90 75.34,291.90 75.81,291.90 76.29,291.90 76.77,291.90 77.25,291.90 77.73,291.90 78.20,291.90 78.68,291.90 79.16,291.90 79.64,291.90 80.11,291.90 80.59,291.90 81.07,291.90 81.55,291.90 82.03,291.90 82.50,291.90 82.98,291.90 83.46,291.90 83.94,291.90 84.41,291.90 84.89,291.90 85.37,291.90 85.85,291.90 86.33,291.90 86.80,291.90 87.28,291.90 87.76,291.90 88.24,291.90 88.72,291.90 89.19,291.90 89.67,291.90 90.15,291.90 90.63,291.90 91.10,291.90 91.58,291.90 92.06,291.90 92.54,291.90 93.02,291.90 93.49,291.90 93.97,291.90 94.45,291.90 94.93,291.90 95.40,291.90 95.88,291.90 96.36,291.90 96.84,291.90 97.32,291.90 97.79,291.90 98.27,291.90 98.75,291.90 99.23,291.90 99.71,291.90 100.18,291.90 100.66,291.90 101.14,291.90 101.62,291.90 102.09,291.90 102.57,291.90 103.05,291.90 103.53,291.90 104.01,291.90 104.48,291.90 104.96,291.90 105.44,291.90 105.92,291.90 106.39,291.90 106.87,291.90 107.35,291.90 107.83,291.90 108.31,291.90 108.78,291.90 109.26,291.90 109.74,291.90 110.22,291.90 110.70,291.90 111.17,291.90 111.65,291.90 112.13,291.90 112.61,291.90 113.08,291.90 113.56,291.90 114.04,291.90 114.52,291.90 115.00,291.90 115.47,291.90 115.95,291.90 116.43,291.90 116.91,291.90 117.39,291.90 117.86,291.90 118.34,291.90 118.82,291.90 119.30,291.90 119.77,291.90 120.25,291.90 120.73,291.90 121.21,291.90 121.69,291.90 122.16,291.90 122.64,291.90 123.12,291.90 123.60,291.90 124.07,291.90 124.55,291.90 125.03,291.90 125.51,291.90 125.99,291.90 126.46,291.90 126.94,291.90 127.42,291.90 127.90,291.90 128.38,291.90 128.85,291.90 129.33,291.90 129.81,291.90 130.29,291.90 130.76,291.90 131.24,291.90 131.72,291.90 132.20,291.90 132.68,291.90 133.15,291.90 133.63,291.90 134.11,291.90 134.59,291.90 135.06,291.90 135.54,291.90 136.02,291.90 136.50,291.90 136.98,291.90 137.45,291.90 137.93,291.90 138.41,291.90 138.89,291.90 139.37,291.90 139.84,291.90 140.32,291.90 140.80,291.90 141.28,291.90 141.75,291.90 142.23,291.90 142.71,291.90 143.19,291.90 143.67,291.90 144.14,291.90 144.62,291.90 145.10,291.90 145.58,291.90 146.05,291.90 146.53,291.90 147.01,291.90 147.49,291.90 147.97,291.90 148.44,291.90 148.92,291.90 149.40,291.90 149.88,291.90 150.36,291.90 150.83,291.90 151.31,291.90 151.79,291.90 152.27,291.90 152.74,291.90 153.22,291.90 153.70,291.90 154.18,291.90 154.66,291.90 155.13,291.90 155.61,291.90 156.09,291.90 156.57,291.90 157.04,291.90 157.52,291.90 158.00,291.90 158.48,291.90 158.96,291.90 159.43,291.90 159.91,291.90 160.39,291.90 160.87,291.90 161.35,291.90 161.82,291.90 162.30,291.91 162.78,291.93 163.26,292.07 163.73,292.82 164.21,296.62 164.69,312.29 165.17,345.64 165.65,369.30 166.12,376.25 166.60,377.69 167.08,377.97 167.56,378.02 168.04,378.03 168.51,378.03 168.99,378.03 169.47,378.03 169.95,378.03 170.42,378.03 170.90,378.03 171.38,378.03 171.86,378.03 172.34,378.03 172.81,378.03 173.29,378.03 173.77,378.03 174.25,378.03 174.72,378.03 175.20,378.03 175.68,378.03 176.16,378.03 176.64,378.03 177.11,378.03 177.59,378.03 178.07,378.03 178.55,378.03 179.03,378.03 179.50,378.03 179.98,378.03 180.46,378.03 180.94,378.03 181.41,378.03 181.89,378.03 182.37,378.03 182.85,378.03 183.33,378.03 183.80,378.03 184.28,378.03 184.76,378.03 185.24,378.03 185.71,378.03 186.19,378.03 186.67,378.03 187.15,378.03 187.63,378.03 188.10,378.03 188.58,378.03 189.06,378.03 189.54,378.03 190.02,378.03 190.49,378.03 190.97,378.03 191.45,378.03 191.93,378.03 192.40,378.03 192.88,378.03 193.36,378.03 193.84,378.03 194.32,378.03 194.79,378.03 195.27,378.03 195.75,378.03 196.23,378.03 196.70,378.03 197.18,378.03 197.66,378.03 198.14,378.03 198.62,378.03 199.09,378.03 199.57,378.03 200.05,378.03 200.53,378.03 201.01,378.03 201.48,378.03 201.96,378.03 202.44,378.03 202.92,378.03 203.39,378.03 203.87,378.03 204.35,378.03 204.83,378.03 205.31,378.03 205.78,378.03 206.26,378.03 206.74,378.03 207.22,378.03 207.69,378.03 208.17,378.03 208.65,378.03 209.13,378.03 209.61,378.03 210.08,378.03 210.56,378.03 211.04,378.03 211.52,378.03 212.00,378.03 212.47,378.03 212.95,378.03 213.43,378.03 213.91,378.03 214.38,378.03 214.86,378.03" fill="none" stroke="#10b810" stroke-width="2"/>
<polyline points="71.51,310.88 71.99,310.88 72.46,310.88 72.94,310.88 73.41,310.88 73.88,310.88 74.36,310.88 74.83,310.88 75.31,310.88 75.78,310.88 76.25,310.88 76.73,310.88 77.20,310.88 77.68,310.88 78.15,310.88 78.63,310.88 79.10,310.88 79.57,310.88 80.05,310.88 80.52,310.88 81.00,310.88 81.47,310.88 81.94,310.88 82.42,310.88 82.89,310.88 83.37,310.88 83.84,310.88 84.31,310.88 84.79,310.88 85.26,310.88 85.74,310.88 86.21,310.88 86.69,310.88 87.16,310.88 87.63,310.88 88.11,310.88 88.58,310.88 89.06,310.88 89.53,310.88 90.00,310.88 90.48,310.88 90.95,310.88 91.43,310.88 91.90,310.88 92.37,310.88 92.85,310.88 93.32,310.88 93.80,310.88 94.27,310.88 94.75,310.88 95.22,310.88 95.69,310.88 96.17,310.88 96.64,310.88 97.12,310.88 97.59,310.88 98.06,310.88 98.54,310.88 99.01,310.88 99.49,310.88 99.96,310.88 100.43,310.88 100.91,310.88 101.38,310.88 101.86,310.88 102.33,310.88 102.81,310.88 103.28,310.88 103.75,310.88 104.23,310.88 104.70,310.88 105.18,310.88 105.65,310.88 106.12,310.88 106.60,310.88 107.07,310.88 107.55,310.88 108.02,310.88 108.49,310.88 108.97,310.88 109.44,310.88 109.92,310.88 110.39,310.88 110.87,310.88 111.34,310.88 111.81,310.88 112.29,310.88 112.76,310.88 113.24,310.88 113.71,310.88 114.18,310.88 114.66,310.88 115.13,310.88 115.61,310.88 116.08,310.88 116.55,310.88 117.03,310.88 117.50,310.88 117.98,310.88 118.45,310.88 118.93,310.88 119.40,310.88 119.87,310.88 120.35,310.88 120.82,310.88 121.30,310.88 121.77,310.88 122.24,310.88 122.72,310.88 123.19,310.88 123.67,310.88 124.14,310.88 124.62,310.88 125.09,310.88 125.56,310.88 126.04,310.88 126.51,310.88 126.99,310.88 127.46,310.88 127.93,310.88 128.41,310.88 128.88,310.88 129.36,310.88 129.83,310.89 130.30,310.89 130.78,310.89 131.25,310.89 131.73,310.89 132.20,310.90 132.68,310.90 133.15,310.91 133.62,310.91 134.10,310.92 134.57,310.92 135.05,310.93 135.52,310.94 135.99,310.95 136.47,310.96 136.94,310.97 137.42,310.99 137.89,311.00 138.36,311.02 138.84,311.05 139.31,311.07 139.79,311.11 140.26,311.14 140.74,311.18 141.21,311.23 141.68,311.29 142.16,311.35 142.63,311.43 143.11,311.51 143.58,311.61 144.05,311.72 144.53,311.85 145.00,312.01 145.48,312.18 145.95,312.38 146.42,312.61 146.90,312.87 147.37,313.18 147.85,313.52 148.32,313.92 148.80,314.37 149.27,314.89 149.74,315.47 150.22,316.14 150.69,316.89 151.17,317.74 151.64,318.69 152.11,319.76 152.59,320.95 153.06,322.27 153.54,323.72 154.01,325.31 154.48,327.04 154.96,328.91 155.43,330.91 155.91,333.04 156.38,335.29 156.86,337.63 157.33,340.04 157.80,342.51 158.28,345.01 158.75,347.52 159.23,350.00 159.70,352.43 160.17,354.79 160.65,357.06 161.12,359.22 161.60,361.25 162.07,363.16 162.54,364.92 163.02,366.55 163.49,368.03 163.97,369.38 164.44,370.60 164.92,371.70 165.39,372.68 165.86,373.55 166.34,374.32 166.81,375.01 167.29,375.62 167.76,376.15 168.23,376.61 168.71,377.02 169.18,377.38 169.66,377.70 170.13,377.97 170.60,378.21 171.08,378.41 171.55,378.59 172.03,378.75 172.50,378.88 172.98,379.00 173.45,379.10 173.92,379.19 174.40,379.27 174.87,379.34 175.35,379.39 175.82,379.44 176.29,379.49 176.77,379.52 177.24,379.56 177.72,379.58 178.19,379.61 178.66,379.63 179.14,379.65 179.61,379.66 180.09,379.68 180.56,379.69 181.04,379.70 181.51,379.71 181.98,379.71 182.46,379.72 182.93,379.73 183.41,379.73 183.88,379.74 184.35,379.74 184.83,379.74 185.30,379.75 185.78,379.75 186.25,379.75 186.73,379.75 187.20,379.75 187.67,379.75 188.15,379.76 188.62,379.76 189.10,379.76 189.57,379.76 190.04,379.76 190.52,379.76 190.99,379.76 191.47,379.76 191.94,379.76 192.41,379.76 192.89,379.76 193.36,379.76 193.84,379.76 194.31,379.76 194.79,379.76 195.26,379.76 195.73,379.76 196.21,379.76 196.68,379.76 197.16,379.76 197.63,379.76 198.10,379.76 198.58,379.76 199.05,379.76 199.53,379.76 200.00,379.76 200.47,379.76 200.95,379.76 201.42,379.76 201.90,379.76 202.37,379.76 202.85,379.76 203.32,379.76 203.79,379.76 204.27,379.76 204.74,379.76 205.22,379.76 205.69,379.76 206.16,379.76 206.64,379.76 207.11,379.76 207.59,379.76 208.06,379.76 208.53,379.76 209.01,379.76 209.48,379.76 209.96,379.76 210.43,379.76 210.91,379.76 211.38,379.76 211.85,379.76 212.33,379.76 212.80,379.76 213.28,379.76 213.75,379.76" fill="none" stroke="#000" stroke-width="1.6"/>
<polygon points="71.51,297.75 67.76,304.50 75.26,304.50" fill="#0a0af0"/>
<rect x="68.31" y="302.06" width="6.4" height="6.4" fill="#10b810"/>
<circle cx="71.51" cy="315.41" r="3.2" fill="#000"/>
<rect x="84.12" y="294.48" width="6.4" height="6.4" fill="#0a0af0"/>
<rect x="84.12" y="297.78" width="6.4" height="6.4" fill="#10b810"/>
<circle cx="87.32" cy="315.41" r="3.2" fill="#000"/>
<rect x="99.92" y="290.76" width="6.4" height="6.4" fill="#10b810"/>
<circle cx="103.12" cy="312.28" r="3.2" fill="#000"/>
<polygon points="118.93,286.53 115.18,293.28 122.68,293.28" fill="#10b810"/>
<rect x="115.73" y="288.70" width="6.4" height="6.4" fill="#10b810"/>
<circle cx="118.93" cy="312.03" r="3.2" fill="#000"/>
<polygon points="134.73,269.70 130.98,276.45 138.48,276.45" fill="#0a0af0"/>
<rect x="131.53" y="265.68" width="6.4" height="6.4" fill="#0a0af0"/>
<polygon points="134.73,273.82 130.98,280.57 138.48,280.57" fill="#10b810"/>
<rect x="131.53" y="272.61" width="6.4" height="6.4" fill="#10b810"/>
<circle cx="134.73" cy="297.18" r="3.2" fill="#000"/>
<rect x="147.33" y="301.32" width="6.4" height="6.4" fill="#0a0af0"/>
<rect x="147.33" y="277.98" width="6.4" height="6.4" fill="#10b810"/>
<circle cx="150.53" cy="318.88" r="3.2" fill="#000"/>
<rect x="163.14" y="374.50" width="6.4" height="6.4" fill="#0a0af0"/>
<rect x="163.14" y="366.58" width="6.4" height="6.4" fill="#10b810"/>
<circle cx="166.34" cy="376.05" r="3.2" fill="#000"/>
<rect x="178.94" y="375.32" width="6.4" height="6.4" fill="#0a0af0"/>
<polygon points="182.14,372.82 178.39,379.57 185.89,379.57" fill="#10b810"/>
<rect x="178.94" y="370.79" width="6.4" height="6.4" fill="#10b810"/>
<circle cx="182.14" cy="379.60" r="3.2" fill="#000"/>
<rect x="194.75" y="376.15" width="6.4" height="6.4" fill="#0a0af0"/>
<polygon points="197.95,374.47 194.20,381.22 201.70,381.22" fill="#10b810"/>
<rect x="194.75" y="374.34" width="6.4" height="6.4" fill="#10b810"/>
<circle cx="197.95" cy="380.83" r="3.2" fill="#000"/>
<rect x="210.55" y="376.15" width="6.4" height="6.4" fill="#0a0af0"/>
<polygon points="213.75,374.47 210.00,381.22 217.50,381.22" fill="#10b810"/>
<rect x="210.55" y="374.91" width="6.4" height="6.4" fill="#10b810"/>
<circle cx="213.75" cy="381.25" r="3.2" fill="#000"/>
<line x1="174.5" y1="255.7" x2="190.2" y2="255.7" stroke="#000" stroke-width="1.6"/>
<circle cx="182.35" cy="255.70" r="2.6" fill="#000"/>
<text x="198" y="259.59999999999997" font-size="11.8" fill="#111">H37Rv</text>
<line x1="174.5" y1="274.3" x2="190.2" y2="274.3" stroke="#10b810" stroke-width="1.6"/>
<rect x="179.15" y="271.10" width="6.4" height="6.4" fill="#10b810"/>
<text x="198" y="278.2" font-size="11.8" fill="#111"><tspan>Δ</tspan><tspan font-style="italic">rv3066</tspan>_5</text>
<line x1="174.5" y1="293.2" x2="190.2" y2="293.2" stroke="#10b810" stroke-width="1.6"/>
<polygon points="182.35,289.42 178.85,295.72 185.85,295.72" fill="#10b810"/>
<text x="198" y="297.09999999999997" font-size="11.8" fill="#111"><tspan>Δ</tspan><tspan font-style="italic">rv3066</tspan>_9</text>
<line x1="174.5" y1="311.8" x2="190.2" y2="311.8" stroke="#0a0af0" stroke-width="1.6"/>
<rect x="179.15" y="308.60" width="6.4" height="6.4" fill="#0a0af0"/>
<text x="198" y="315.7" font-size="11.8" fill="#111"><tspan>Δ</tspan><tspan font-style="italic">mmr-rv3066</tspan>_2</text>
<line x1="174.5" y1="330.9" x2="190.2" y2="330.9" stroke="#0a0af0" stroke-width="1.6"/>
<polygon points="182.35,327.12 178.85,333.42 185.85,333.42" fill="#0a0af0"/>
<text x="198" y="334.79999999999995" font-size="11.8" fill="#111"><tspan>Δ</tspan><tspan font-style="italic">mmr-rv3066</tspan>_8</text>
<g font-family='"Liberation Serif", serif' font-weight="bold" font-size="13" fill="#111">
<rect x="318" y="252.4" width="408" height="3.2" fill="#000"/>
<rect x="318" y="396.2" width="408" height="3.2" fill="#000"/>
<line x1="419.4" y1="254" x2="419.4" y2="398" stroke="#333" stroke-width="1.1"/>
<line x1="538.3" y1="274" x2="538.3" y2="398" stroke="#777" stroke-width="1.1"/>
<line x1="419.4" y1="273.9" x2="726" y2="273.9" stroke="#888" stroke-width="1.1"/>
<line x1="318" y1="291.3" x2="726" y2="291.3" stroke="#333" stroke-width="1.2"/>
<line x1="318" y1="309.5" x2="726" y2="309.5" stroke="#333" stroke-width="1.2"/>
<text x="572.4" y="268.3" text-anchor="middle">MIC (μM)</text>
<text x="477.8" y="286.0" text-anchor="middle">BPD-9</text>
<text x="632.2" y="286.0" text-anchor="middle">RIF</text>
<text x="367.9" y="303.8" text-anchor="middle">Strains</text>
<text x="448.9" y="303.9" text-anchor="middle">MIC<tspan font-size="7.8" dx="0.5" dy="1.3">50</tspan></text>
<text x="508.4" y="303.9" text-anchor="middle">MIC<tspan font-size="7.8" dx="0.5" dy="1.3">90</tspan></text>
<text x="585.6" y="303.9" text-anchor="middle">MIC<tspan font-size="7.8" dx="0.5" dy="1.3">50</tspan></text>
<text x="679.4" y="303.9" text-anchor="middle">MIC<tspan font-size="7.8" dx="0.5" dy="1.3">90</tspan></text>
<text x="325.1" y="322.4" text-anchor="start">H37Rv</text>
<text x="448.5" y="322.4" text-anchor="middle">7.4±0.9</text>
<text x="510.6" y="322.4" text-anchor="middle">7.5±0.4</text>
<text x="584" y="322.4" text-anchor="middle">0.003±0.00002</text>
<text x="679.5" y="322.4" text-anchor="middle">0.003±0.00002</text>
<text x="325.1" y="339.9" text-anchor="start">Δ<tspan font-style="italic">rv3066</tspan>_5</text>
<text x="448.5" y="339.9" text-anchor="middle">48.1±1.1</text>
<text x="508.5" y="339.9" text-anchor="middle">58.0±3.2</text>
<text x="585" y="339.9" text-anchor="middle">0.01±0.0004</text>
<text x="679.5" y="339.9" text-anchor="middle">0.01±0.0003</text>
<text x="325.1" y="356.5" text-anchor="start">Δ<tspan font-style="italic">rv3066</tspan>_9</text>
<text x="448.5" y="356.5" text-anchor="middle">47.6±0.4</text>
<text x="508.5" y="356.5" text-anchor="middle">51.2±0.1</text>
<text x="585" y="356.5" text-anchor="middle">0.007±0.0006</text>
<text x="679.5" y="356.5" text-anchor="middle">0.007±0.0001</text>
<text x="325.1" y="373.7" text-anchor="start">Δ<tspan font-style="italic">mmr-rv3066</tspan>_2</text>
<text x="448.5" y="373.7" text-anchor="middle">6.1±0.08</text>
<text x="508.5" y="373.7" text-anchor="middle">6.6±0.08</text>
<text x="585" y="373.7" text-anchor="middle">0.008±0.0006</text>
<text x="679.5" y="373.7" text-anchor="middle">0.01±0.002</text>
<text x="325.1" y="391.0" text-anchor="start">Δ<tspan font-style="italic">mmr-rv3066</tspan>_8</text>
<text x="448.5" y="391.0" text-anchor="middle">5.9±0.02</text>
<text x="508.5" y="391.0" text-anchor="middle">6.4±0.01</text>
<text x="585" y="391.0" text-anchor="middle">0.007±0.0006</text>
<text x="679.5" y="391.0" text-anchor="middle">0.007±0.0002</text>
</g>
</svg></body></html>
